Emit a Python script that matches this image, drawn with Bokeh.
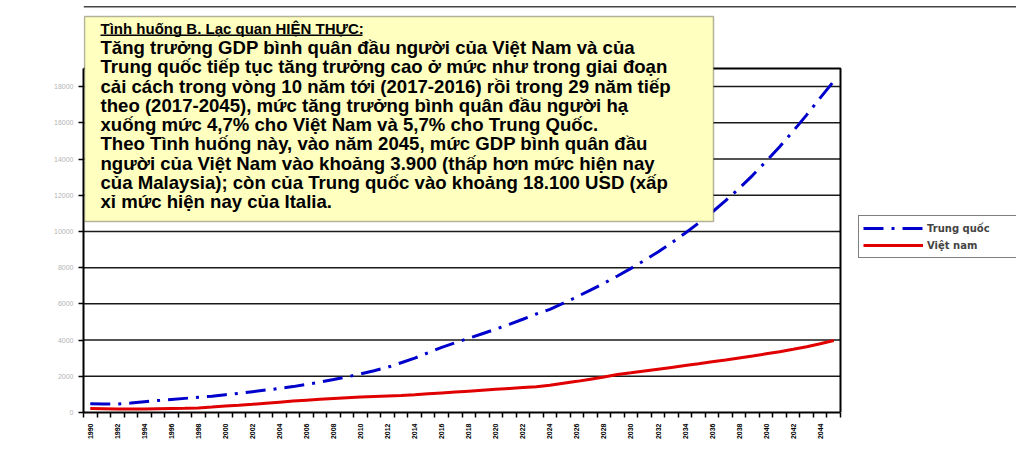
from bokeh.plotting import figure
from bokeh.models import (Range1d, FixedTicker, Label, BoxAnnotation, Legend, LegendItem)
from bokeh.embed import file_html
from bokeh.resources import INLINE
from math import pi

years = list(range(1990, 2046))
china = [480, 470, 460, 520, 600, 660, 720, 780, 840, 900,
         980, 1060, 1150, 1240, 1330, 1430, 1550, 1680, 1820, 1970,
         2130, 2310, 2500, 2750, 3000, 3300, 3600, 3850, 4100, 4350,
         4600, 4870, 5150, 5440, 5700, 6040, 6390, 6760, 7140, 7540,
         7960, 8400, 8870, 9370, 9900, 10460, 11060, 11700, 12380, 13100,
         13870, 14680, 15540, 16440, 17380, 18300]
vietnam = [220, 210, 200, 200, 200, 210, 220, 230, 250, 300,
           360, 400, 450, 510, 570, 630, 680, 730, 770, 810,
           850, 880, 910, 940, 980, 1030, 1080, 1130, 1180, 1230,
           1280, 1330, 1380, 1420, 1500, 1610, 1720, 1840, 1960, 2100,
           2190, 2290, 2390, 2490, 2590, 2690, 2800, 2900, 3010, 3120,
           3240, 3360, 3490, 3630, 3800, 3980]
y_ticks = [0, 2000, 4000, 6000, 8000, 10000, 12000, 14000, 16000, 18000]
y_max = 19000
label_years = list(range(1990, 2045, 2))
series_names = ["Trung quốc", "Việt nam"]

box_title = "Tình huống B. Lạc quan HIỆN THỰC:"
box_lines = [
    "Tăng trưởng GDP bình quân đầu người của Việt Nam và của",
    "Trung quốc tiếp tục tăng trưởng cao ở mức như trong giai đoạn",
    "cải cách trong vòng 10 năm tới (2017-2016) rồi trong 29 năm tiếp",
    "theo (2017-2045), mức tăng trưởng bình quân đầu người hạ",
    "xuống mức 4,7% cho Việt Nam và 5,7% cho Trung Quốc.",
    "Theo Tình huống này, vào năm 2045, mức GDP bình quân đầu",
    "người của Việt Nam vào khoảng 3.900 (thấp hơn mức hiện nay",
    "của Malaysia); còn của Trung quốc vào khoảng 18.100 USD (xấp",
    "xỉ mức hiện nay của Italia.",
]

# geometry: plot area 757 x 344 px; the frame is extended up and right so
# that the text box and legend (which lie outside the plot area) are drawn.
PLOT_W, PLOT_H = 757, 344
FRAME_W, FRAME_H = 933, 412
x0 = years[0] - 0.5
x1 = years[-1] + 0.5
px_per_year = PLOT_W / (x1 - x0)
px_per_unit = PLOT_H / y_max
x_end = x0 + FRAME_W / px_per_year
y_end = FRAME_H / px_per_unit

p = figure(frame_width=FRAME_W, frame_height=FRAME_H,
           min_border_left=83, min_border_right=0,
           min_border_top=0, min_border_bottom=50,
           x_range=Range1d(x0, x_end), y_range=Range1d(0, y_end),
           output_backend="svg", toolbar_location=None,
           background_fill_color="white", border_fill_color="white")

p.outline_line_color = None
p.xgrid.visible = False
p.ygrid.visible = False

# horizontal gridlines and plot-area border (top + right)
grid_vals = [t for t in y_ticks if t > 0]
p.multi_line(xs=[[x0, x1] for _ in grid_vals], ys=[[t, t] for t in grid_vals],
             line_color="#1a1a1a", line_width=1.5)
p.line([x0, x1, x1], [y_max, y_max, 0], line_color="black", line_width=2)

# y axis
p.yaxis.ticker = FixedTicker(ticks=y_ticks)
p.yaxis.bounds = (0, y_max)
p.yaxis.axis_line_width = 2
p.yaxis.axis_line_color = "black"
p.yaxis.major_tick_out = 5
p.yaxis.major_tick_in = 0
p.yaxis.major_tick_line_width = 1.5
p.yaxis.minor_tick_line_color = None
p.yaxis.major_label_text_font_size = "7px"
p.yaxis.major_label_text_color = "#b4b4b4"
p.yaxis.major_label_text_font = "Liberation Sans"
p.yaxis.major_label_standoff = 5

# x axis
p.xaxis.ticker = FixedTicker(ticks=label_years,
                             minor_ticks=[y - 0.5 for y in years] + [years[-1] + 0.5])
p.xaxis.bounds = (x0, x1)
p.xaxis.axis_line_width = 2
p.xaxis.axis_line_color = "black"
p.xaxis.major_tick_out = 0
p.xaxis.major_tick_in = 0
p.xaxis.minor_tick_out = 5
p.xaxis.minor_tick_in = 0
p.xaxis.minor_tick_line_width = 1.5
p.xaxis.minor_tick_line_color = "black"
p.xaxis.major_label_orientation = pi / 2
p.xaxis.major_label_text_font_size = "7px"
p.xaxis.major_label_text_font_style = "bold"
p.xaxis.major_label_text_font = "Liberation Sans"
p.xaxis.major_label_text_color = "black"
p.xaxis.major_label_standoff = 6

r_cn = p.line(years, china, line_color="#0000CC", line_width=3, line_dash="20 8 3 8")
r_vn = p.line(years, vietnam, line_color="#E00000", line_width=3)

# top border line of the chart area
p.add_layout(BoxAnnotation(left=0, right=FRAME_W, bottom=405, top=406.5,
                           left_units="screen", right_units="screen",
                           bottom_units="screen", top_units="screen",
                           fill_color="#444444", fill_alpha=1, line_color=None))

# yellow text box
p.add_layout(BoxAnnotation(left=1, right=630, bottom=191, top=396,
                           left_units="screen", right_units="screen",
                           bottom_units="screen", top_units="screen",
                           fill_color="#FFFFC0", fill_alpha=1,
                           line_color="black", line_width=1.5))

p.add_layout(Label(x=17, y=412 - 27.5, x_units="screen", y_units="screen",
                   text=box_title, text_font="Liberation Sans", text_font_style="bold",
                   text_font_size="15px", text_color="black",
                   text_baseline="middle", text_align="left"))

line_y = [46.5, 66, 85.5, 104.5, 124, 143, 162.5, 182, 201]
for txt, yy in zip(box_lines, line_y):
    p.add_layout(Label(x=17, y=412 - yy, x_units="screen", y_units="screen",
                       text=txt, text_font="Liberation Sans", text_font_style="bold",
                       text_font_size="18.6px", text_color="black",
                       text_baseline="middle", text_align="left"))

# underline of the title
p.add_layout(BoxAnnotation(left=17, right=279, bottom=412 - 35.5, top=412 - 34,
                           left_units="screen", right_units="screen",
                           bottom_units="screen", top_units="screen",
                           fill_color="black", fill_alpha=1, line_color=None))

legend = Legend(items=[LegendItem(label=series_names[0], renderers=[r_cn]),
                       LegendItem(label=series_names[1], renderers=[r_vn])],
                location=(775, 154), orientation="vertical",
                glyph_width=60, glyph_height=16, label_standoff=4,
                label_text_font="DejaVu Sans", label_text_font_style="bold",
                label_text_font_size="10px", label_height=16, label_width=100,
                padding=4, spacing=1, margin=0,
                border_line_color="black", border_line_width=1.5,
                background_fill_color="white", background_fill_alpha=1)
p.add_layout(legend, "center")

open("out.html", "w").write(file_html(p, INLINE))
